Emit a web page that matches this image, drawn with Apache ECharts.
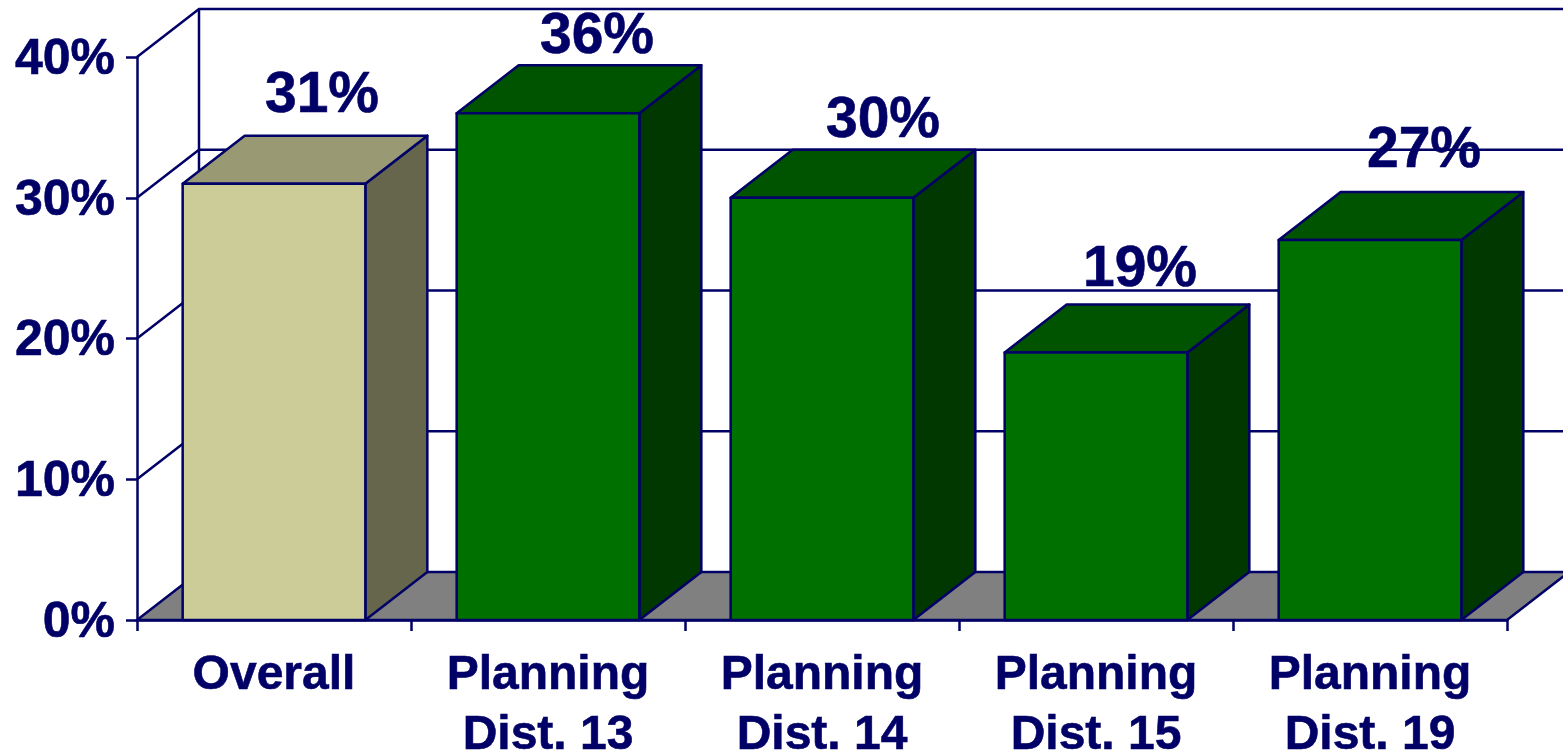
<!DOCTYPE html>
<html>
<head>
<meta charset="utf-8">
<style>html,body{margin:0;padding:0;background:#fff}#c{width:1563px;height:754px}</style>
<script src="https://cdn.jsdelivr.net/npm/echarts@6/dist/echarts.min.js"></script>
</head>
<body>
<div id="c"></div>
<script>
const categories = ['Overall', 'Planning\nDist. 13', 'Planning\nDist. 14', 'Planning\nDist. 15', 'Planning\nDist. 19'];
const values = [31, 36, 30, 19, 27];
const yTicks = [0, 10, 20, 30, 40];

const NAVY = '#000066';
const FONT = '"Liberation Sans", Arial, sans-serif';
const DX = 62, DY = -48;
const LW = 2.5;
const tan = { front: '#CCCC99', top: '#999973', side: '#66664D' };
const green = { front: '#007000', top: '#005400', side: '#003800' };
const labelNudge = [[48, -59], [49, -48], [61, -48], [44, -54], [54, -60]];

const chart = echarts.init(document.getElementById('c'), null, { renderer: 'canvas' });
const line = { stroke: NAVY, lineWidth: LW };

function renderWall(params, api) {
  const v = api.value(0);
  const cs = params.coordSys;
  const y = api.coord([0, v])[1];
  const xL = cs.x, xR = cs.x + cs.width;
  const kids = [];
  if (v === 0) {
    kids.push({ type: 'polygon', shape: { points: [[xL, y], [xR, y], [xR + DX, y + DY], [xL + DX, y + DY]] },
      style: { fill: '#808080', stroke: NAVY, lineWidth: LW } });
  } else {
    kids.push({ type: 'polyline', shape: { points: [[xL, y], [xL + DX, y + DY], [xR + DX, y + DY]] },
      style: Object.assign({ fill: null }, line) });
  }
  if (v === yTicks[yTicks.length - 1]) {
    const y0 = api.coord([0, 0])[1];
    kids.push({ type: 'line', shape: { x1: xL + DX, y1: y + DY, x2: xL + DX, y2: y0 + DY }, style: line });
  }
  return { type: 'group', children: kids };
}

function renderBar(params, api) {
  const i = api.value(0), v = api.value(1);
  const base = api.coord([i, 0]), top = api.coord([i, v]);
  const w = api.size([1, 0])[0] * 2 / 3;
  const l = base[0] - w / 2, r = base[0] + w / 2;
  const c = i === 0 ? tan : green;
  const s = { stroke: NAVY, lineWidth: LW, lineJoin: 'round' };
  return { type: 'group', children: [
    { type: 'polygon', shape: { points: [[r, top[1]], [r + DX, top[1] + DY], [r + DX, base[1] + DY], [r, base[1]]] },
      style: Object.assign({ fill: c.side }, s) },
    { type: 'polygon', shape: { points: [[l, top[1]], [l + DX, top[1] + DY], [r + DX, top[1] + DY], [r, top[1]]] },
      style: Object.assign({ fill: c.top }, s) },
    { type: 'rect', shape: { x: l, y: top[1], width: w, height: base[1] - top[1] },
      style: Object.assign({ fill: c.front }, s) },
    { type: 'text', x: base[0] + labelNudge[i][0], y: top[1] + labelNudge[i][1],
      style: { text: v + '%', fill: NAVY, stroke: NAVY, lineWidth: 0.6, font: 'bold 57px ' + FONT, textAlign: 'center', textVerticalAlign: 'bottom' } }
  ]};
}

chart.setOption({
  animation: false,
  backgroundColor: '#fff',
  grid: { left: 137, right: 56, top: 57, bottom: 134, outerBoundsMode: 'none' },
  xAxis: {
    type: 'category', data: categories,
    axisLine: { lineStyle: { color: NAVY, width: LW } },
    axisTick: { show: true, length: 11, lineStyle: { color: NAVY, width: LW } },
    axisLabel: { color: NAVY, fontFamily: FONT, fontWeight: 'bold', fontSize: 48, lineHeight: 60, margin: 26, interval: 0,
      textBorderColor: NAVY, textBorderWidth: 0.6 },
    z: 1
  },
  yAxis: {
    type: 'value', min: 0, max: 40, interval: 10,
    splitLine: { show: false },
    axisLine: { show: true, lineStyle: { color: NAVY, width: LW } },
    axisTick: { show: true, length: 11, lineStyle: { color: NAVY, width: LW } },
    axisLabel: { color: NAVY, fontFamily: FONT, fontWeight: 'bold', fontSize: 50, lineHeight: 50, margin: 22,
      verticalAlign: 'top', padding: [-22, 0, 0, 0], formatter: '{value}%',
      textBorderColor: NAVY, textBorderWidth: 0.6 },
    z: 1
  },
  series: [
    { type: 'custom', z: 2, clip: false, renderItem: renderWall, data: yTicks.map(t => [t]), encode: { y: 0 }, silent: true },
    { type: 'custom', z: 3, clip: false, renderItem: renderBar, data: values.map((v, i) => [i, v]), encode: { x: 0, y: 1 }, silent: true }
  ]
});
</script>
</body>
</html>
